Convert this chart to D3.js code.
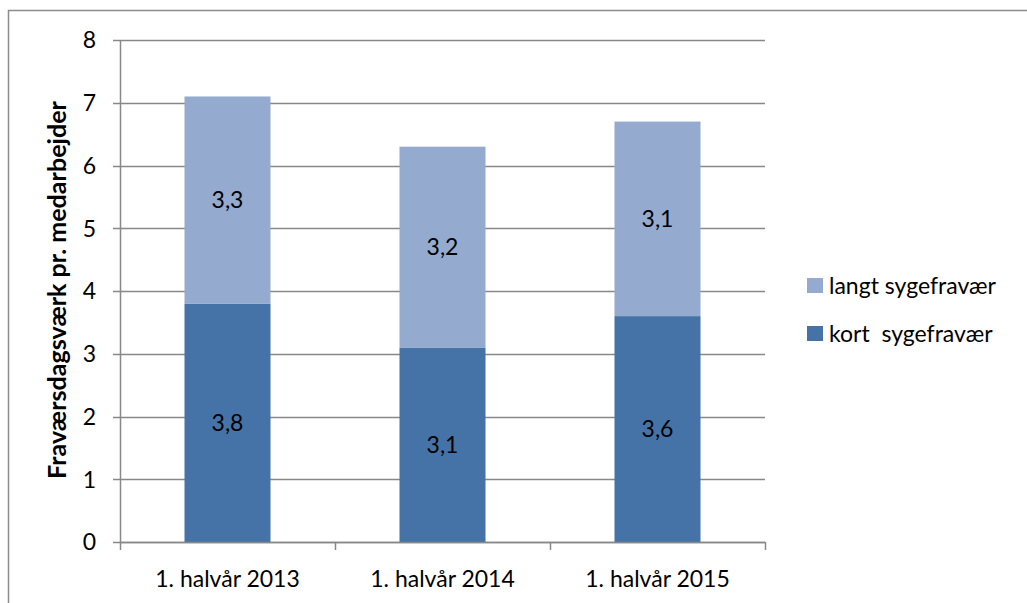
<!DOCTYPE html>
<html>
<head>
<meta charset="utf-8">
<script src="https://cdn.jsdelivr.net/npm/d3@7"></script>
<style>
  body { margin: 0; background: #fff; }
  svg text { font-family: Lato, "Open Sans", sans-serif; fill: #000; }
</style>
</head>
<body>
<svg id="chart" width="1027" height="603"></svg>
<script>
// chart data
const categories = ["1. halvår 2013", "1. halvår 2014", "1. halvår 2015"];
const kortValues = [3.8, 3.1, 3.6];
const langtValues = [3.3, 3.2, 3.1];
const seriesNames = ["kort  sygefravær", "langt sygefravær"];
const yTicks = [0, 1, 2, 3, 4, 5, 6, 7, 8];

const colours = { kort: "#4573A7", langt: "#94AACF" };
const gridColour = "#888";
const fontSize = 23;

const svg = d3.select("#chart");

// outer frame
svg.append("path")
    .attr("d", "M8.5,603 V10.5 H1027")
    .attr("fill", "none")
    .attr("stroke", "#8c8c8c")
    .attr("stroke-width", 1.5);

const plot = { left: 120, right: 765, top: 40, bottom: 542 };

const x = d3.scaleBand()
    .domain(categories)
    .range([plot.left, plot.right])
    .paddingInner(0.6)
    .paddingOuter(0.3);

const y = d3.scaleLinear()
    .domain([0, 8])
    .range([plot.bottom, plot.top]);

// gridlines
svg.append("g")
    .selectAll("line")
    .data(yTicks)
    .join("line")
    .attr("x1", plot.left - 7)
    .attr("x2", plot.right)
    .attr("y1", d => Math.round(y(d)) + 0.5)
    .attr("y2", d => Math.round(y(d)) + 0.5)
    .attr("stroke", gridColour)
    .attr("stroke-width", 1.5);

// y tick labels
svg.append("g")
    .selectAll("text")
    .data(yTicks)
    .join("text")
    .attr("x", 96)
    .attr("y", d => y(d))
    .attr("dy", "0.36em")
    .attr("text-anchor", "end")
    .attr("font-size", fontSize)
    .text(d => d);

// y axis line
svg.append("line")
    .attr("x1", plot.left + 0.5).attr("x2", plot.left + 0.5)
    .attr("y1", plot.top).attr("y2", plot.bottom)
    .attr("stroke", gridColour)
    .attr("stroke-width", 1.5);

// stacked data
const stacked = categories.map((c, i) => ({
    cat: c,
    kort: kortValues[i],
    langt: langtValues[i]
}));

const bars = svg.append("g");

// kort (bottom)
bars.selectAll(".kort")
    .data(stacked)
    .join("rect")
    .attr("class", "kort")
    .attr("x", d => x(d.cat))
    .attr("width", x.bandwidth())
    .attr("y", d => y(d.kort))
    .attr("height", d => y(0) - y(d.kort))
    .attr("fill", colours.kort);

// langt (top)
bars.selectAll(".langt")
    .data(stacked)
    .join("rect")
    .attr("class", "langt")
    .attr("x", d => x(d.cat))
    .attr("width", x.bandwidth())
    .attr("y", d => y(d.kort + d.langt))
    .attr("height", d => y(d.kort) - y(d.kort + d.langt))
    .attr("fill", colours.langt);

// data labels
const fmt = v => d3.format(".1f")(v).replace(".", ",");
svg.append("g")
    .selectAll("text")
    .data(stacked.flatMap(d => [
        { cat: d.cat, mid: d.kort / 2, v: d.kort },
        { cat: d.cat, mid: d.kort + d.langt / 2, v: d.langt }
    ]))
    .join("text")
    .attr("x", d => x(d.cat) + x.bandwidth() / 2)
    .attr("y", d => y(d.mid))
    .attr("dy", "0.36em")
    .attr("text-anchor", "middle")
    .attr("font-size", fontSize)
    .text(d => fmt(d.v));

// x axis line and ticks
svg.append("line")
    .attr("x1", plot.left).attr("x2", plot.right)
    .attr("y1", plot.bottom + 0.5).attr("y2", plot.bottom + 0.5)
    .attr("stroke", gridColour)
    .attr("stroke-width", 1.5);

const boundaries = d3.range(categories.length + 1).map(i => plot.left + i * (plot.right - plot.left) / categories.length);
svg.append("g")
    .selectAll("line")
    .data(boundaries)
    .join("line")
    .attr("x1", d => d + 0.5).attr("x2", d => d + 0.5)
    .attr("y1", plot.bottom).attr("y2", plot.bottom + 8)
    .attr("stroke", gridColour)
    .attr("stroke-width", 1.5);

// category labels
svg.append("g")
    .selectAll("text")
    .data(categories)
    .join("text")
    .attr("x", d => x(d) + x.bandwidth() / 2)
    .attr("y", 587)
    .attr("text-anchor", "middle")
    .attr("font-size", fontSize)
    .text(d => d);

// y axis title, sized to span the same height as the original
const title = svg.append("text")
    .attr("transform", "translate(57,290) rotate(-90)")
    .attr("text-anchor", "middle")
    .attr("dy", "0.36em")
    .attr("font-size", 20)
    .attr("font-weight", 700)
    .text("Fraværsdagsværk pr. medarbejder");
const len = title.node().getComputedTextLength();
title.attr("font-size", 20 * 378 / len);

// legend
const legendItems = [
    { name: seriesNames[1], colour: colours.langt, y: 286 },
    { name: seriesNames[0], colour: colours.kort, y: 334 }
];
const legend = svg.append("g");
legend.selectAll("rect")
    .data(legendItems)
    .join("rect")
    .attr("x", 807)
    .attr("y", d => d.y - 8)
    .attr("width", 16)
    .attr("height", 15)
    .attr("fill", d => d.colour);
legend.selectAll("text")
    .data(legendItems)
    .join("text")
    .attr("x", 829)
    .attr("y", d => d.y)
    .attr("dy", "0.36em")
    .attr("font-size", fontSize)
    .style("white-space", "pre")
    .text(d => d.name);
</script>
</body>
</html>
